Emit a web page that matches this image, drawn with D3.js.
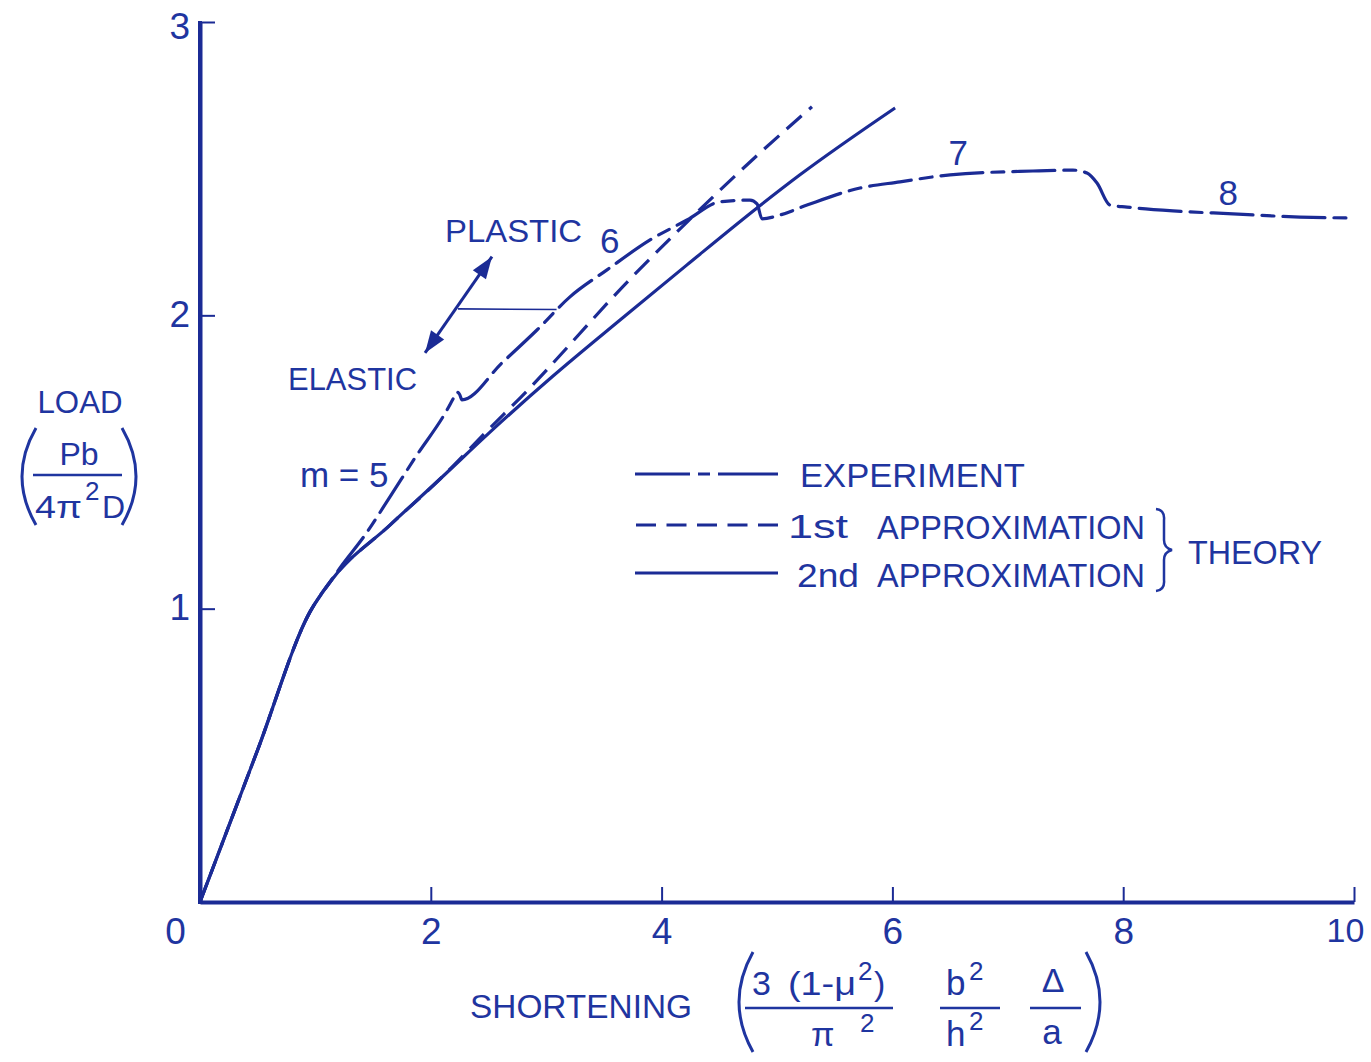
<!DOCTYPE html>
<html><head><meta charset="utf-8">
<script src="https://cdn.jsdelivr.net/npm/d3@7"></script>
<style>body{margin:0;background:#fff}svg{display:block}</style>
</head><body>
<script>
// ---- data ----
const xTicks = [0, 2, 4, 6, 8, 10];
const yTicks = [1, 2, 3];
// Experiment (dash-dot)
const expX = [0, 0.5, 0.953, 1.127, 1.213, 1.43, 1.646, 1.863, 2.14, 2.2, 2.227, 2.25, 2.27, 2.617, 2.92, 3.206, 3.527, 3.9, 4.22, 4.506, 4.766, 4.827, 4.87, 5.026, 5.26, 5.719, 6.066, 6.5, 7.218, 7.565, 7.686, 7.773, 7.886, 8.033, 8.432, 8.951, 9.532, 10.0];
const expY = [0, 0.519, 0.989, 1.091, 1.139, 1.251, 1.381, 1.514, 1.677, 1.72, 1.738, 1.73, 1.712, 1.838, 1.95, 2.063, 2.155, 2.257, 2.325, 2.387, 2.393, 2.38, 2.329, 2.342, 2.376, 2.434, 2.455, 2.479, 2.492, 2.495, 2.485, 2.451, 2.376, 2.369, 2.356, 2.346, 2.335, 2.332];
// 1st approximation (dashed)
const firstX = [0, 0.5, 0.953, 1.127, 1.646, 2.08, 2.513, 2.773, 3.752, 4.22, 4.853, 5.303];
const firstY = [0, 0.519, 0.989, 1.091, 1.285, 1.442, 1.616, 1.718, 2.134, 2.318, 2.554, 2.711];
// 2nd approximation (solid)
const secondX = [0, 0.5, 0.953, 1.127, 1.646, 2.08, 2.513, 3.059, 3.64, 4.22, 4.827, 5.199, 6.023];
const secondY = [0, 0.519, 0.989, 1.091, 1.285, 1.442, 1.602, 1.793, 1.984, 2.172, 2.366, 2.479, 2.707];
// mode labels (m) placed at data coordinates
const modeLabels = ["m = 5", "6", "7", "8"];
const modeLabelX = [1.25, 3.55, 6.57, 8.91];
const modeLabelY = [1.415, 2.213, 2.513, 2.376];

const W = 1371, H = 1062;
const ink = "#1b2b95", textInk = "#1f35a0";
const FONT = "'Liberation Sans', Arial, sans-serif";

const svg = d3.select("body").append("svg").attr("width", W).attr("height", H);
const x = d3.scaleLinear().domain([0, 10]).range([200, 1354]);
const y = d3.scaleLinear().domain([0, 3]).range([902, 22]);

// ---- axes ----
const xAxis = svg.append("g").attr("transform", "translate(0,902)")
  .call(d3.axisBottom(x).tickValues(xTicks).tickSize(-15).tickSizeOuter(0).tickPadding(16).tickFormat(d3.format("d")));
const yAxis = svg.append("g").attr("transform", "translate(200,0)")
  .call(d3.axisLeft(y).tickValues(yTicks).tickSize(-15).tickSizeOuter(0).tickPadding(10).tickFormat(d3.format("d")));
[xAxis, yAxis].forEach(g => {
  g.select(".domain").attr("stroke", ink).attr("stroke-width", 4);
  g.selectAll(".tick line").attr("stroke", ink).attr("stroke-width", 2);
  g.selectAll(".tick text").attr("fill", textInk).attr("font-family", FONT).attr("font-size", 37);
});
xAxis.selectAll(".tick text").filter(d => d === 0).attr("x", -25);
xAxis.selectAll(".tick text").filter(d => d === 10).attr("x", -9).attr("font-size", 34);
yAxis.selectAll(".tick text").attr("dy", "0.3em");
yAxis.selectAll(".tick text").filter(d => d === 3).attr("dy", "0.45em");
svg.append("line").attr("x1", 200).attr("x2", 200).attr("y1", y(3) - 1).attr("y2", y(0) + 2)
  .attr("stroke", ink).attr("stroke-width", 4);

// ---- curves ----
const line = d3.line().x(d => x(d[0])).y(d => y(d[1])).curve(d3.curveMonotoneX);
const zip = (a, b) => a.map((v, i) => [v, b[i]]);

svg.append("path").attr("d", line(zip(secondX, secondY)))
  .attr("fill", "none").attr("stroke", ink).attr("stroke-width", 3.2).attr("stroke-linejoin", "round");
svg.append("path").attr("d", line(zip(firstX, firstY)))
  .attr("fill", "none").attr("stroke", ink).attr("stroke-width", 3.2).attr("stroke-dasharray", "20,10");
svg.append("path").attr("d", line(zip(expX, expY)))
  .attr("fill", "none").attr("stroke", ink).attr("stroke-width", 3.2).attr("stroke-linecap", "round")
  .attr("stroke-dasharray", "42,9,12,9");

// ---- text helper ----
function txt(px, py, s, size, opts = {}) {
  const t = svg.append("text").attr("x", px).attr("y", py).attr("fill", textInk)
    .attr("font-family", FONT).attr("font-size", size).attr("text-anchor", opts.anchor || "start").text(s);
  if (opts.len) t.attr("textLength", opts.len).attr("lengthAdjust", "spacingAndGlyphs");
  return t;
}

// mode labels
modeLabels.forEach((s, i) => {
  txt(x(modeLabelX[i]), y(modeLabelY[i]), s, 35, {anchor: "middle"});
});

// ---- PLASTIC / ELASTIC annotation ----
txt(445, 242, "PLASTIC", 32, {len: 137});
txt(288, 390, "ELASTIC", 31, {len: 129});
const a0 = [1.95, 1.872], a1 = [2.53, 2.2];
const p0 = [x(a0[0]), y(a0[1])], p1 = [x(a1[0]), y(a1[1])];
svg.append("line").attr("x1", p0[0]).attr("y1", p0[1]).attr("x2", p1[0]).attr("y2", p1[1])
  .attr("stroke", ink).attr("stroke-width", 3);
function head(tip, from) {
  const dx = tip[0] - from[0], dy = tip[1] - from[1], L = Math.hypot(dx, dy);
  const ux = dx / L, uy = dy / L, len = 22, hw = 8;
  const bx = tip[0] - ux * len, by = tip[1] - uy * len;
  svg.append("path").attr("d", `M${tip[0]},${tip[1]}L${bx - uy * hw},${by + ux * hw}L${bx + uy * hw},${by - ux * hw}Z`)
    .attr("fill", ink);
}
head(p0, p1); head(p1, p0);
svg.append("line").attr("x1", x(2.236)).attr("y1", y(2.022)).attr("x2", x(3.09)).attr("y2", y(2.02))
  .attr("stroke", ink).attr("stroke-width", 1.6);

// ---- legend ----
const lg = svg.append("g");
lg.append("line").attr("x1", 635).attr("x2", 778).attr("y1", 474).attr("y2", 474)
  .attr("stroke", ink).attr("stroke-width", 3).attr("stroke-dasharray", "55,8,12,8,60");
lg.append("line").attr("x1", 636).attr("x2", 778).attr("y1", 525).attr("y2", 525)
  .attr("stroke", ink).attr("stroke-width", 3).attr("stroke-dasharray", "20,10.5");
lg.append("line").attr("x1", 635).attr("x2", 778).attr("y1", 573).attr("y2", 573)
  .attr("stroke", ink).attr("stroke-width", 3);
txt(800, 487, "EXPERIMENT", 34, {len: 225});
txt(788, 538, "1st", 34, {len: 60});
txt(877, 539, "APPROXIMATION", 33, {len: 268});
txt(797, 587, "2nd", 34, {len: 62});
txt(877, 587, "APPROXIMATION", 33, {len: 268});
txt(1188, 564, "THEORY", 33, {len: 134});
svg.append("path").attr("d", "M1156,509 Q1165,510 1164,520 L1164,540 Q1164,548 1172,550 Q1164,552 1164,560 L1164,580 Q1165,590 1156,591")
  .attr("fill", "none").attr("stroke", textInk).attr("stroke-width", 2.5);

// ---- y-axis label ----
function paren(px, top, bot, dir) {
  const mid = (top + bot) / 2, w = 14 * dir;
  svg.append("path").attr("d", `M${px + w},${top} Q${px - w},${mid} ${px + w},${bot}`)
    .attr("fill", "none").attr("stroke", textInk).attr("stroke-width", 3);
}
txt(80, 413, "LOAD", 31, {anchor: "middle", len: 85});
txt(79, 465, "Pb", 32, {anchor: "middle"});
svg.append("line").attr("x1", 33).attr("x2", 122).attr("y1", 475).attr("y2", 475).attr("stroke", textInk).attr("stroke-width", 2.5);
txt(35, 518, "4π", 32, {len: 47});
txt(85, 500, "2", 26);
txt(102, 518, "D", 32);
paren(22, 428, 525, 1);
paren(136, 428, 525, -1);

// ---- x-axis label ----
txt(470, 1018, "SHORTENING", 33, {len: 222});
paren(739, 952, 1052, 1);
paren(1100, 952, 1052, -1);
txt(752, 995, "3", 34);
txt(788, 995, "(1-μ", 34, {len: 68});
txt(858, 980, "2", 26);
txt(874, 995, ")", 34);
svg.append("line").attr("x1", 745).attr("x2", 893).attr("y1", 1008).attr("y2", 1008).attr("stroke", textInk).attr("stroke-width", 2.5);
txt(811, 1046, "π", 34);
txt(860, 1032, "2", 26);
txt(946, 995, "b", 35);
txt(969, 980, "2", 26);
svg.append("line").attr("x1", 940).attr("x2", 1000).attr("y1", 1008).attr("y2", 1008).attr("stroke", textInk).attr("stroke-width", 2.5);
txt(946, 1046, "h", 35);
txt(969, 1030, "2", 26);
txt(1053, 992, "Δ", 34, {anchor: "middle"});
svg.append("line").attr("x1", 1030).attr("x2", 1081).attr("y1", 1008).attr("y2", 1008).attr("stroke", textInk).attr("stroke-width", 2.5);
txt(1052, 1044, "a", 35, {anchor: "middle"});
</script>
</body></html>
